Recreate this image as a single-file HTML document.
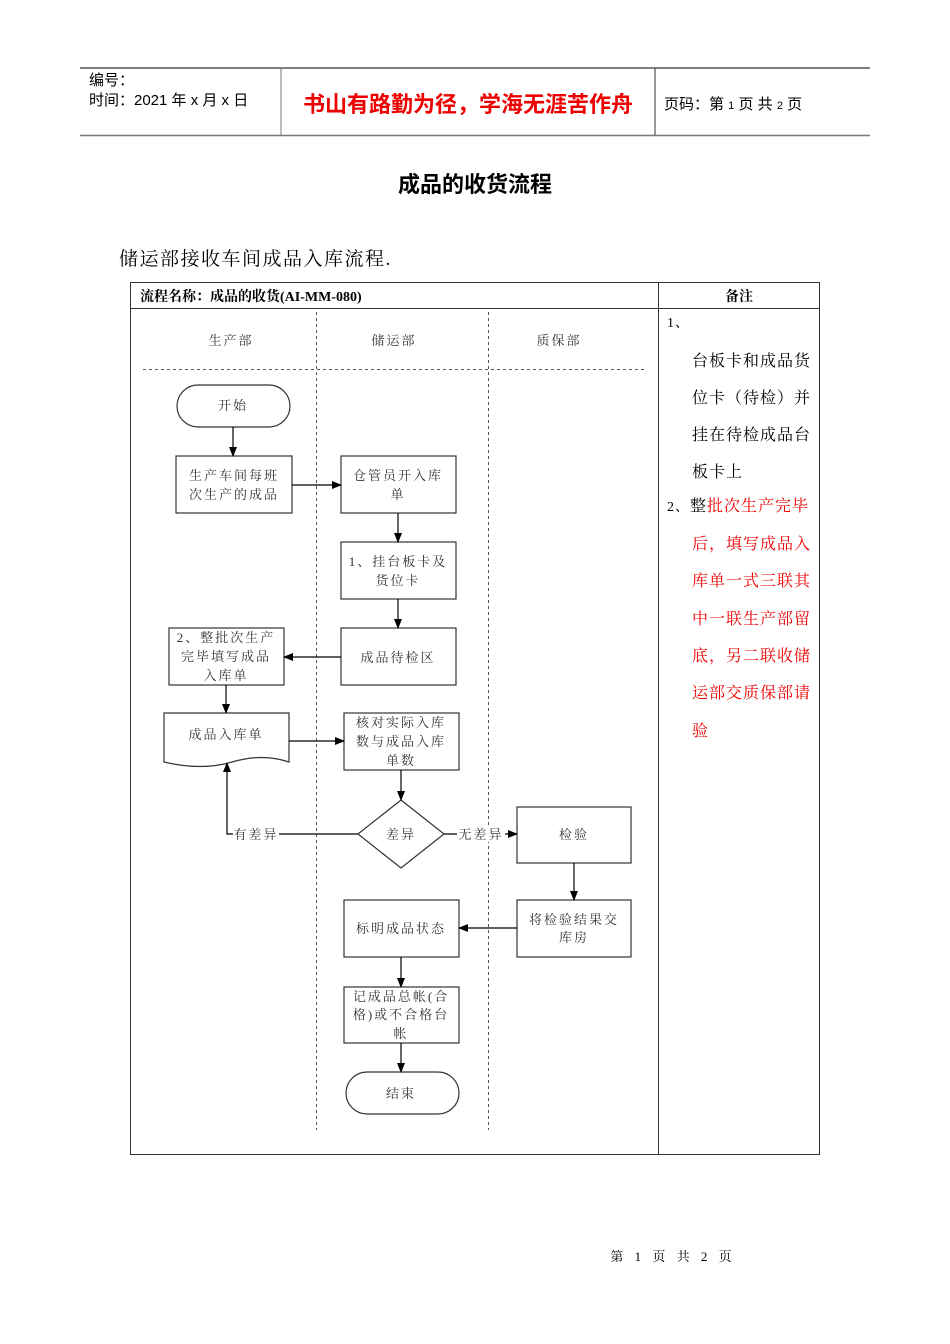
<!DOCTYPE html>
<html><head><meta charset="utf-8"><style>
html,body{margin:0;padding:0;background:#fff;width:950px;height:1344px;overflow:hidden}
svg{display:block}
.s{font-family:"Liberation Serif","Noto Serif CJK SC",serif}
.a{font-family:"Liberation Sans","Noto Sans CJK SC",sans-serif}
.n{font-family:"Liberation Serif","Noto Serif CJK SC",serif;font-size:13px;fill:#333;letter-spacing:2px;text-anchor:middle}
</style></head><body>
<svg width="950" height="1344" viewBox="0 0 950 1344">
<defs><marker id="ar" markerWidth="10" markerHeight="10" refX="9" refY="5" orient="auto" markerUnits="userSpaceOnUse"><path d="M0,1 L10,5 L0,9 Z" fill="#000"/></marker></defs>
<!-- header -->
<line x1="80" y1="68" x2="870" y2="68" stroke="#333" stroke-width="1.2"/>
<line x1="80" y1="135.5" x2="870" y2="135.5" stroke="#777" stroke-width="1.5"/>
<line x1="281" y1="68" x2="281" y2="135" stroke="#777"/>
<line x1="655" y1="68" x2="655" y2="135" stroke="#333"/>
<text x="89" y="85" class="a" font-size="15">编号：</text>
<text x="89" y="105" class="a" font-size="15">时间：2021 年 x 月 x 日</text>
<text x="468" y="112" class="a" font-size="22" font-weight="bold" fill="#e00" text-anchor="middle">书山有路勤为径，学海无涯苦作舟</text>
<text x="664" y="109" class="a" font-size="15">页码：第 <tspan font-size="11">1</tspan> 页  共 <tspan font-size="11">2</tspan> 页</text>
<text x="475" y="192" class="a" font-size="22" font-weight="bold" text-anchor="middle">成品的收货流程</text>
<text x="119" y="265" class="s" font-size="19" letter-spacing="1.5">储运部接收车间成品入库流程.</text>
<!-- table -->
<rect x="130.5" y="282.5" width="689" height="872" fill="none" stroke="#333"/>
<line x1="130" y1="308.5" x2="820" y2="308.5" stroke="#333"/>
<line x1="658.5" y1="282" x2="658.5" y2="1155" stroke="#333"/>
<text x="140" y="301" class="s" font-size="14" font-weight="bold">流程名称：成品的收货(AI-MM-080)</text>
<text x="739" y="301" class="s" font-size="14" font-weight="bold" text-anchor="middle">备注</text>
<!-- lanes -->
<line x1="316.5" y1="312" x2="316.5" y2="1130" stroke="#555" stroke-dasharray="3,3"/>
<line x1="488.5" y1="312" x2="488.5" y2="1130" stroke="#555" stroke-dasharray="3,3"/>
<line x1="143" y1="369.5" x2="645" y2="369.5" stroke="#555" stroke-dasharray="3,3"/>
<text x="231" y="345" class="n" fill="#555">生产部</text>
<text x="394" y="345" class="n">储运部</text>
<text x="559" y="345" class="n">质保部</text>
<g fill="#fff" stroke="#333" stroke-width="1.2">
<rect x="177" y="385" width="113" height="42" rx="21"/>
<rect x="176" y="456" width="116" height="57"/>
<rect x="341" y="456" width="115" height="57"/>
<rect x="341" y="542" width="115" height="57"/>
<rect x="341" y="628" width="115" height="57"/>
<rect x="169" y="628" width="115" height="57"/>
<path d="M164,713 H289 V762 Q262,753 232,762 T164,762 Z"/>
<rect x="344" y="713" width="115" height="57"/>
<path d="M401,800 L444,834 L401,868 L358,834 Z"/>
<rect x="517" y="807" width="114" height="56"/>
<rect x="517" y="900" width="114" height="57"/>
<rect x="344" y="900" width="115" height="57"/>
<rect x="344" y="987" width="115" height="56"/>
<rect x="346" y="1072" width="113" height="42" rx="21"/>
</g>
<g stroke="#000" stroke-width="1.2" fill="none" marker-end="url(#ar)">
<line x1="233" y1="427" x2="233" y2="456"/>
<line x1="292" y1="485" x2="341" y2="485"/>
<line x1="398" y1="513" x2="398" y2="542"/>
<line x1="398" y1="599" x2="398" y2="628"/>
<line x1="341" y1="657" x2="284" y2="657"/>
<line x1="226" y1="685" x2="226" y2="713"/>
<line x1="289" y1="741" x2="344" y2="741"/>
<line x1="401" y1="770" x2="401" y2="800"/>
<polyline points="358,834 227,834 227,763"/>
<line x1="444" y1="834" x2="517" y2="834"/>
<line x1="574" y1="863" x2="574" y2="900"/>
<line x1="517" y1="928" x2="459" y2="928"/>
<line x1="401" y1="957" x2="401" y2="987"/>
<line x1="401" y1="1043" x2="401" y2="1072"/>
</g>
<rect x="233" y="826" width="46" height="16" fill="#fff"/>
<rect x="457" y="826" width="48" height="16" fill="#fff"/>
<text x="256" y="839" class="n">有差异</text>
<text x="481" y="839" class="n">无差异</text>
<text x="233" y="410" class="n">开始</text>
<text x="234" y="480" class="n">生产车间每班</text><text x="234" y="499" class="n">次生产的成品</text>
<text x="398" y="480" class="n">仓管员开入库</text><text x="398" y="499" class="n">单</text>
<text x="398" y="566" class="n">1、挂台板卡及</text><text x="398" y="585" class="n">货位卡</text>
<text x="398" y="662" class="n">成品待检区</text>
<text x="226" y="642" class="n">2、整批次生产</text><text x="226" y="661" class="n">完毕填写成品</text><text x="226" y="680" class="n">入库单</text>
<text x="226" y="739" class="n">成品入库单</text>
<text x="401" y="727" class="n">核对实际入库</text><text x="401" y="746" class="n">数与成品入库</text><text x="401" y="765" class="n">单数</text>
<text x="401" y="839" class="n">差异</text>
<text x="574" y="839" class="n">检验</text>
<text x="574" y="924" class="n">将检验结果交</text><text x="574" y="942" class="n">库房</text>
<text x="401" y="933" class="n">标明成品状态</text>
<text x="401" y="1001" class="n">记成品总帐(合</text><text x="401" y="1019" class="n">格)或不合格台</text><text x="401" y="1038" class="n">帐</text>
<text x="401" y="1098" class="n">结束</text>
<!-- notes -->
<g class="s" font-size="16" letter-spacing="1">
<text x="667" y="327" font-size="14">1、</text>
<text x="692" y="366">台板卡和成品货</text>
<text x="692" y="403">位卡（待检）并</text>
<text x="692" y="440">挂在待检成品台</text>
<text x="692" y="477">板卡上</text>
<text x="667" y="511"><tspan font-size="14">2、</tspan>整<tspan fill="#e00">批次生产完毕</tspan></text>
<g fill="#e00">
<text x="692" y="549">后，填写成品入</text>
<text x="692" y="586">库单一式三联其</text>
<text x="692" y="624">中一联生产部留</text>
<text x="692" y="661">底，另二联收储</text>
<text x="692" y="698">运部交质保部请</text>
<text x="692" y="736">验</text>
</g></g>
<text x="673" y="1261" class="s" font-size="13" text-anchor="middle" letter-spacing="4">第 1 页 共 2 页</text>
</svg>
</body></html>
